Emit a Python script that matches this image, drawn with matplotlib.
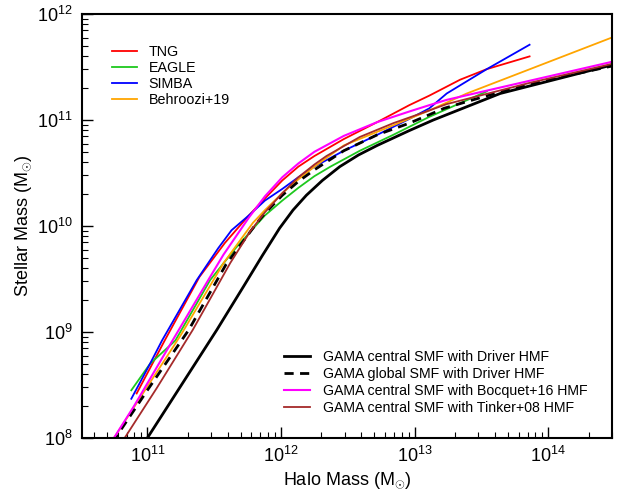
import numpy as np
import matplotlib
matplotlib.use("Agg")
import matplotlib.pyplot as plt

# log10 halo mass / log10 stellar mass
tng_x = [10.92, 11.13, 11.39, 11.58, 11.76, 11.88, 12.01, 12.13, 12.25, 12.47, 12.72, 12.96, 13.11, 13.34, 13.54, 13.86]
tng_y = [8.42, 8.92, 9.52, 9.84, 10.10, 10.26, 10.43, 10.56, 10.66, 10.82, 10.98, 11.14, 11.23, 11.38, 11.48, 11.60]

eagle_x = [10.88, 11.02, 11.21, 11.47, 11.66, 11.88, 12.01, 12.13, 12.25, 12.37, 12.59, 12.84, 13.11, 13.54]
eagle_y = [8.45, 8.70, 8.92, 9.49, 9.79, 10.10, 10.24, 10.36, 10.47, 10.56, 10.71, 10.86, 11.03, 11.27]

simba_x = [10.88, 11.02, 11.11, 11.37, 11.53, 11.63, 11.76, 11.88, 12.01, 12.13, 12.25, 12.47, 12.72,
	12.96, 13.11, 13.24, 13.54, 13.86]
simba_y = [8.37, 8.70, 8.92, 9.49, 9.79, 9.96, 10.10, 10.24, 10.35, 10.46, 10.56, 10.71, 10.86,
	11.01, 11.11, 11.25, 11.48, 11.71]

behroozi_x = [10.73, 11.25, 11.57, 11.79, 11.88, 12.01, 12.13, 12.25, 12.47, 12.84, 13.11, 13.39, 13.74, 14.48]
behroozi_y = [7.96, 8.97, 9.65, 10.03, 10.15, 10.31, 10.44, 10.56, 10.76, 10.95, 11.09, 11.25, 11.42, 11.78]

central_x = [10.99, 11.52, 11.72, 11.86, 11.99, 12.09, 12.19, 12.31, 12.44, 12.58, 12.72, 12.96, 13.14,
	13.64, 14.48]
central_y = [7.98, 9.02, 9.43, 9.72, 9.98, 10.15, 10.29, 10.43, 10.56, 10.67, 10.76, 10.90, 11.00,
	11.25, 11.52]

global_x = [10.74, 11.0, 11.31, 11.59, 11.82, 11.88, 12.01, 12.13, 12.25, 12.47, 12.72, 12.96, 13.11,
	13.22, 13.49, 13.74, 14.0, 14.48]
global_y = [7.96, 8.45, 9.02, 9.64, 10.03, 10.12, 10.29, 10.42, 10.53, 10.71, 10.86, 10.97, 11.05,
	11.11, 11.21, 11.30, 11.38, 11.51]

bocquet_x = [10.73, 10.9, 11.17, 11.47, 11.57, 11.76, 11.88, 12.01, 12.13, 12.25, 12.47, 12.72, 12.96,
	13.11, 13.24, 13.86, 14.48]
bocquet_y = [7.96, 8.30, 8.88, 9.52, 9.73, 10.08, 10.28, 10.46, 10.59, 10.70, 10.85, 10.98, 11.08,
	11.14, 11.19, 11.37, 11.55]

tinker_x = [10.81, 11.07, 11.34, 11.62, 11.77, 11.88, 12.01, 12.13, 12.25, 12.34, 12.59, 12.84, 13.11,
	13.24, 13.86, 14.48]
tinker_y = [7.96, 8.47, 9.02, 9.65, 9.95, 10.13, 10.31, 10.46, 10.58, 10.66, 10.84, 10.97, 11.09,
	11.15, 11.35, 11.53]

plt.rcParams['font.family'] = ['Liberation Sans', 'DejaVu Sans']
plt.rcParams['mathtext.fontset'] = 'custom'
plt.rcParams['mathtext.rm'] = 'Liberation Sans'
plt.rcParams['mathtext.it'] = 'Liberation Sans:italic'

def main():
	fig = plt.figure(figsize=(6.22, 4.93), dpi=100)
	ax = fig.add_axes([0.132, 0.1116, 0.852, 0.860])

	sims = []
	sims += ax.plot(10**np.array(tng_x), 10**np.array(tng_y), c='#ff0000', lw=1.3, label='TNG')
	sims += ax.plot(10**np.array(eagle_x), 10**np.array(eagle_y), c='#1ec81e', lw=1.3, label='EAGLE')
	sims += ax.plot(10**np.array(simba_x), 10**np.array(simba_y), c='#0000ff', lw=1.3, label='SIMBA')
	sims += ax.plot(10**np.array(behroozi_x), 10**np.array(behroozi_y), c='#ffa500', lw=1.3, label='Behroozi+19')

	gama = []
	gama += ax.plot(10**np.array(central_x), 10**np.array(central_y), c='k', lw=2.0,
		label='GAMA central SMF with Driver HMF')
	gama += ax.plot(10**np.array(global_x), 10**np.array(global_y), c='k', lw=2.0, ls=(0, (3.3, 2.3)),
		label='GAMA global SMF with Driver HMF')
	gama += ax.plot(10**np.array(bocquet_x), 10**np.array(bocquet_y), c='#ff00ff', lw=1.5,
		label='GAMA central SMF with Bocquet+16 HMF')
	gama += ax.plot(10**np.array(tinker_x), 10**np.array(tinker_y), c='#a52a2a', lw=1.3,
		label='GAMA central SMF with Tinker+08 HMF')

	ax.set_xscale('log')
	ax.set_yscale('log')
	ax.set_xlim(3.25e10, 3e14)
	ax.set_ylim(1e8, 1e12)

	for s in ax.spines.values():
		s.set_linewidth(1.5)
	ax.tick_params(which='both', direction='in', top=False, right=False, labelsize=13)
	ax.tick_params(axis='x', pad=6)
	ax.tick_params(axis='y', pad=7)
	ax.tick_params(which='major', length=8, width=1)
	ax.tick_params(which='minor', length=4, width=0.8)

	ax.set_xlabel(r'Halo Mass (M$_{\odot}$)', fontsize=13, labelpad=3)
	ax.set_ylabel(r'Stellar Mass (M$_{\odot}$)', fontsize=13, labelpad=2)

	leg1 = ax.legend(handles=sims, loc='upper left', bbox_to_anchor=(0.057, 0.927), frameon=False,
		fontsize=10.3, borderpad=0, borderaxespad=0, handlelength=1.7, handletextpad=0.85, labelspacing=0.15)
	ax.add_artist(leg1)
	ax.legend(handles=gama, loc='lower right', bbox_to_anchor=(0.953, 0.055), frameon=False,
		fontsize=10.2, borderpad=0, borderaxespad=0, handlelength=1.9, handletextpad=0.85, labelspacing=0.2)

	fig.savefig('out.png', dpi=100)

if __name__ == "__main__":
	main()
